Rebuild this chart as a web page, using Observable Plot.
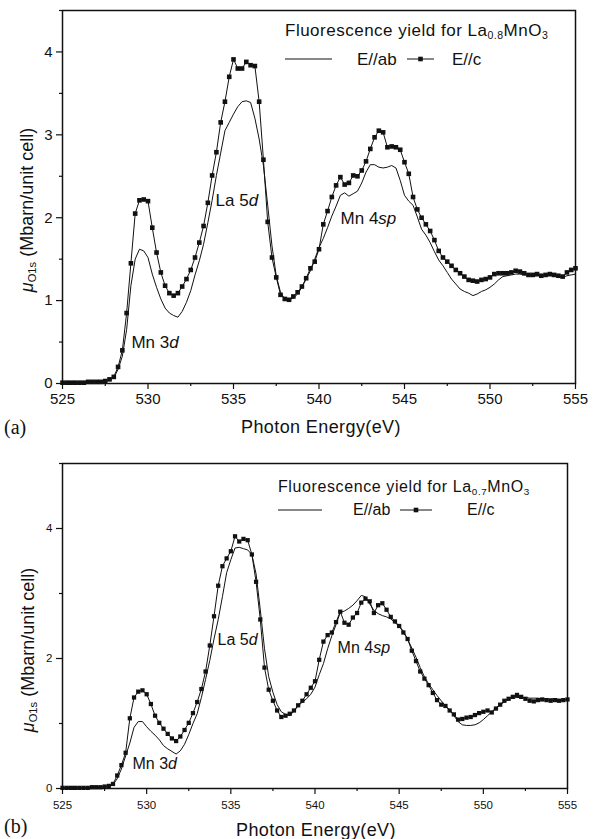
<!DOCTYPE html>
<html><head><meta charset="utf-8">
<script src="https://cdn.jsdelivr.net/npm/d3@7"></script>
<script src="https://cdn.jsdelivr.net/npm/@observablehq/plot@0.6"></script>
<style>
body{margin:0;background:#fff;font-family:"Liberation Sans",Arial,sans-serif;color:#111}
#wrap{position:relative;width:600px;height:839px;overflow:hidden;background:#fff}
.panel{position:absolute;left:0}
.lab{position:absolute;white-space:nowrap;line-height:1;color:#111}
.sub{font-size:0.62em;vertical-align:-0.3em}
.ylab{position:absolute;white-space:nowrap;line-height:1;transform:translate(-50%,-50%) rotate(-90deg);font-size:18px}
.serif{font-family:"Liberation Serif","Times New Roman",serif}
</style></head><body><div id="wrap"></div>
<script>
const energy = [525,525.25,525.5,525.75,526,526.25,526.5,526.75,527,527.25,527.5,527.75,528,528.25,528.5,528.75,529,529.25,529.5,529.75,530,530.25,530.5,530.75,531,531.25,531.5,531.75,532,532.25,532.5,532.75,533,533.25,533.5,533.75,534,534.25,534.5,534.75,535,535.25,535.5,535.75,536,536.25,536.5,536.75,537,537.25,537.5,537.75,538,538.25,538.5,538.75,539,539.25,539.5,539.75,540,540.25,540.5,540.75,541,541.25,541.5,541.75,542,542.25,542.5,542.75,543,543.25,543.5,543.75,544,544.25,544.5,544.75,545,545.25,545.5,545.75,546,546.25,546.5,546.75,547,547.25,547.5,547.75,548,548.25,548.5,548.75,549,549.25,549.5,549.75,550,550.25,550.5,550.75,551,551.25,551.5,551.75,552,552.25,552.5,552.75,553,553.25,553.5,553.75,554,554.25,554.5,554.75,555];

// (a) La0.8MnO3
const cA = [0.01,0.01,0.01,0.01,0.01,0.01,0.02,0.02,0.02,0.02,0.03,
0.05,0.08,0.2,0.4,0.85,1.45,2.05,2.21,2.22,
2.2,1.88,1.58,1.34,1.18,1.09,1.06,1.09,
1.17,1.26,1.37,1.52,1.7,1.9,2.18,2.51,
2.79,3.15,3.4,3.7,3.91,3.8,3.8,3.88,
3.84,3.83,3.4,2.7,1.95,1.52,1.28,1.07,
1.02,1.01,1.05,1.1,1.17,1.27,1.39,1.47,
1.62,1.92,2.08,2.25,2.39,2.49,2.4,2.42,
2.51,2.5,2.57,2.68,2.83,2.97,3.05,3.03,
2.85,2.86,2.85,2.82,2.67,2.53,2.25,2.1,
2.0,1.92,1.84,1.73,1.6,1.52,1.47,1.42,
1.37,1.33,1.29,1.25,1.24,1.23,1.25,1.26,
1.28,1.32,1.33,1.33,1.33,1.34,1.36,1.35,
1.33,1.31,1.31,1.32,1.3,1.31,1.32,1.31,
1.3,1.29,1.34,1.37,1.39];
const abA = [0.01,0.01,0.01,0.01,0.01,0.01,0.02,0.02,0.02,0.02,0.03,
0.04,0.07,0.17,0.33,0.65,1.18,1.5,1.62,1.6,
1.52,1.32,1.16,1.02,0.91,0.85,0.82,0.8,
0.87,0.98,1.12,1.31,1.48,1.68,1.94,2.21,
2.51,2.78,3.05,3.15,3.25,3.34,3.4,3.41,
3.39,3.2,2.95,2.63,2.15,1.66,1.3,1.1,
1.02,1.01,1.03,1.08,1.16,1.26,1.36,1.5,
1.64,1.75,1.88,2.02,2.14,2.27,2.3,2.26,
2.29,2.32,2.42,2.55,2.64,2.64,2.61,2.6,
2.61,2.63,2.6,2.45,2.27,2.2,2.15,2.01,
1.86,1.79,1.7,1.59,1.49,1.42,1.34,1.26,
1.2,1.14,1.11,1.09,1.06,1.08,1.11,1.13,
1.16,1.2,1.25,1.29,1.3,1.31,1.32,1.32,
1.31,1.31,1.3,1.3,1.3,1.3,1.3,1.3,
1.29,1.28,1.3,1.31,1.32];

// (b) La0.7MnO3
const cB = [0.01,0.01,0.01,0.01,0.01,0.01,0.01,0.02,0.02,0.02,0.03,
0.04,0.07,0.2,0.36,0.55,1.08,1.4,1.49,1.51,
1.45,1.3,1.12,1.01,0.92,0.84,0.77,0.73,
0.8,0.9,1.01,1.16,1.33,1.53,1.8,2.2,
2.65,3.12,3.42,3.54,3.65,3.88,3.8,3.84,
3.82,3.6,3.18,2.6,1.86,1.52,1.35,1.2,
1.1,1.12,1.15,1.2,1.28,1.35,1.45,1.55,
1.65,1.98,2.26,2.36,2.4,2.56,2.72,2.55,
2.52,2.63,2.7,2.86,2.92,2.88,2.7,2.82,
2.85,2.75,2.64,2.57,2.5,2.4,2.3,2.12,
1.96,1.8,1.69,1.59,1.47,1.36,1.29,1.27,
1.2,1.14,1.06,1.07,1.09,1.1,1.13,1.16,
1.18,1.2,1.17,1.23,1.29,1.35,1.38,1.41,
1.44,1.41,1.38,1.35,1.34,1.36,1.37,1.36,
1.35,1.36,1.35,1.36,1.37];
const abB = [0.01,0.01,0.01,0.01,0.01,0.01,0.01,0.02,0.02,0.02,0.03,
0.03,0.06,0.15,0.3,0.5,0.7,0.94,1.03,1.03,
0.95,0.88,0.82,0.75,0.66,0.61,0.57,0.53,
0.58,0.68,0.83,1.0,1.15,1.4,1.68,1.97,
2.3,2.6,2.95,3.32,3.52,3.7,3.71,3.69,
3.67,3.6,3.3,2.75,2.15,1.72,1.48,1.29,
1.18,1.14,1.12,1.19,1.27,1.33,1.38,1.45,
1.56,1.75,1.92,2.15,2.35,2.52,2.71,2.73,
2.77,2.82,2.89,2.97,2.95,2.84,2.74,2.69,
2.66,2.64,2.61,2.55,2.5,2.42,2.3,2.16,
2.02,1.86,1.72,1.61,1.52,1.43,1.35,1.27,
1.21,1.12,1.03,0.98,0.97,0.97,0.98,1.01,
1.06,1.12,1.18,1.24,1.29,1.33,1.37,1.39,
1.4,1.4,1.4,1.39,1.39,1.39,1.38,1.38,
1.38,1.38,1.37,1.37,1.37];

// Axis ticks
const xTicks = [525,530,535,540,545,550,555];
const xMinor = [527.5,532.5,537.5,542.5,547.5,552.5];
const yTicksA = [0,1,2,3,4];
const yMinorA = [0.5,1.5,2.5,3.5,4.5];
const yTicksB = [0,2,4];
const yMinorB = [1,3,5];

// Peak annotations (data coordinates)
const annotA = [{E:529.03,v:0.5,t:"Mn 3",i:"d"},{E:533.95,v:2.21,t:"La 5",i:"d"},{E:541.26,v:1.99,t:"Mn 4",i:"sp"}];
const annotB = [{E:529.16,v:0.38,t:"Mn 3",i:"d"},{E:534.21,v:2.28,t:"La 5",i:"d"},{E:541.34,v:2.17,t:"Mn 4",i:"sp"}];

const wrap = document.getElementById("wrap");

function panel(o){
  const data = energy.map((E,k)=>({E, c:o.c[k], ab:o.ab[k]}));
  const svg = Plot.plot({
    width:600, height:o.height,
    marginLeft:62, marginRight:o.mr, marginTop:o.mt, marginBottom:o.mb,
    style:{fontFamily:"Liberation Sans, Arial, sans-serif", fontSize:o.fs+"px", color:"#111", background:"white", overflow:"visible"},
    x:{domain:[525,555]},
    y:{domain:o.yDomain},
    marks:[
      Plot.axisX({ticks:xTicks, tickSize:6, tickPadding:o.tp, tickFormat:d=>String(d), label:null, strokeWidth:1.2}),
      Plot.axisX({ticks:xMinor, tickSize:3, tickFormat:()=>"", label:null, strokeWidth:1.2}),
      Plot.axisY({ticks:o.yTicks, tickSize:6, tickPadding:4, tickFormat:d=>String(d), label:null, strokeWidth:1.2}),
      Plot.axisY({ticks:o.yMinor, tickSize:3, tickFormat:()=>"", label:null, strokeWidth:1.2}),
      Plot.line(data,{x:"E", y:"ab", stroke:"#111", strokeWidth:1}),
      Plot.line(data,{x:"E", y:"c", stroke:"#111", strokeWidth:1}),
      Plot.dot(data,{x:"E", y:"c", symbol:"square", r:o.r, fill:"#111", stroke:"none"}),
      Plot.text(o.annot,{x:"E", y:"v", text:"t", textAnchor:"start", fontSize:o.afs, fill:"#111", className:"annot"}),
      Plot.frame({stroke:"#111", strokeWidth:1.5})
    ]
  });
  svg.querySelectorAll("g.annot text").forEach((el,k)=>{
    const ts = document.createElementNS("http://www.w3.org/2000/svg","tspan");
    ts.setAttribute("font-style","italic");
    ts.textContent = o.annot[k].i;
    el.appendChild(ts);
  });
  svg.classList.add("panel");
  svg.style.top = o.top+"px";
  wrap.appendChild(svg);
}

panel({c:cA, ab:abA, height:420, top:0, mt:10, mb:37, mr:25, yDomain:[0,4.5], yTicks:yTicksA, yMinor:yMinorA, fs:15, tp:4, r:2.6, annot:annotA, afs:17});
panel({c:cB, ab:abB, height:399, top:440, mt:23, mb:51, mr:33, yDomain:[0,5], yTicks:yTicksB, yMinor:yMinorB, fs:11.5, tp:6, r:2.4, annot:annotB, afs:16});

function addLab(html, left, cy, size, cls){
  const d = document.createElement("div");
  d.className = "lab" + (cls? " "+cls : "");
  d.style.left = left+"px";
  d.style.top = (cy - size/2)+"px";
  d.style.fontSize = size+"px";
  d.innerHTML = html;
  wrap.appendChild(d);
  return d;
}
function addYLab(cx, cy){
  const d = document.createElement("div");
  d.className = "ylab";
  d.style.left = cx+"px"; d.style.top = cy+"px";
  d.innerHTML = '<i>μ</i><span class="sub">O1s</span> (Mbarn/unit cell)';
  wrap.appendChild(d);
}
function addSample(left, cy, w, marker){
  const s = document.createElementNS("http://www.w3.org/2000/svg","svg");
  s.setAttribute("width", w); s.setAttribute("height", 8);
  s.style.position="absolute"; s.style.left=left+"px"; s.style.top=(cy-4)+"px";
  s.innerHTML = `<line x1="0" y1="4" x2="${w}" y2="4" stroke="#111" stroke-width="1"/>` +
    (marker ? `<rect x="${w/2-2.3}" y="1.7" width="4.6" height="4.6" fill="#111"/>` : "");
  wrap.appendChild(s);
}

// Panel (a) texts
addYLab(28, 210);
addLab("Photon Energy(eV)", 241, 427, 18).style.letterSpacing="0.4px";
addLab("(a)", 4, 427, 20, "serif");
addLab('Fluorescence yield for La<span class="sub">0.8</span>MnO<span class="sub">3</span>', 285, 30, 17).style.letterSpacing="0.5px";
addSample(285, 59, 47, false);
addLab("E//ab", 357, 59, 17);
addSample(407, 59, 27, true);
addLab("E//c", 452, 59, 17);

// Panel (b) texts
addYLab(29, 650);
addLab("Photon Energy(eV)", 236, 830, 18).style.letterSpacing="0.4px";
addLab("(b)", 4, 826, 20, "serif");
addLab('Fluorescence yield for La<span class="sub">0.7</span>MnO<span class="sub">3</span>', 278, 487, 16).style.letterSpacing="0.6px";
addSample(278, 510, 44, false);
addLab("E//ab", 353, 510, 16);
addSample(400, 510, 32, true);
addLab("E//c", 467, 510, 16);
</script></body></html>
